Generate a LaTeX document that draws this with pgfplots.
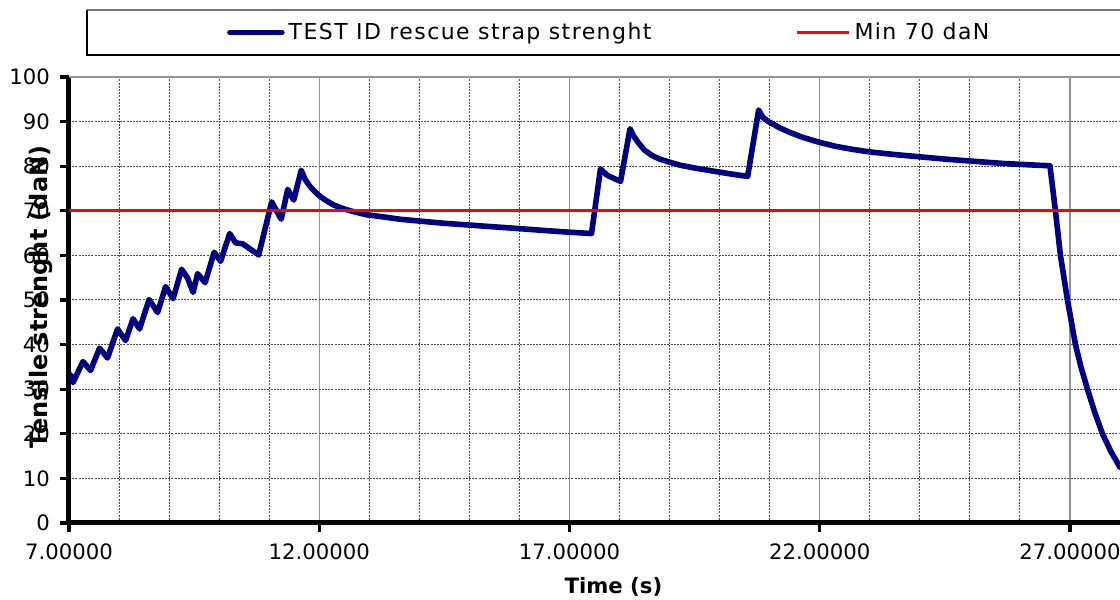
\documentclass[border=0pt]{standalone}
\usepackage{fontspec}
\setmainfont{DejaVu Sans}
\newfontfamily\legfont[LetterSpace=6.5]{DejaVu Sans}
\usepackage{pgfplots}
\pgfplotsset{compat=1.18}
\definecolor{navyline}{RGB}{0,0,128}
\definecolor{redline}{RGB}{255,0,0}
\begin{document}
\begin{tikzpicture}
\useasboundingbox (-34.5pt,-38.5pt) rectangle (525.5pt,261.5pt);
\begin{axis}[
  at={(0,0)}, anchor=south west,
  scale only axis, width=525.5pt, height=223pt,
  xmin=7, xmax=28, ymin=0, ymax=100,
  axis x line*=bottom, axis y line*=left,
  axis line style={line width=2.5pt, black},
  xtick={7,12,17,22,27},
  minor xtick={8,9,10,11,13,14,15,16,18,19,20,21,23,24,25,26,28},
  ytick={0,10,...,100},
  tick align=outside,
  major tick length=4.5pt,
  minor tick length=0pt,
  tick style={line width=1.6pt, black},
  xmajorgrids, xminorgrids, ymajorgrids,
  major x grid style={gray!85, line width=0.7pt, solid},
  minor x grid style={black!70, line width=0.5pt, dash pattern=on 1pt off 0.6pt},
  major y grid style={black!70, line width=0.5pt, dash pattern=on 1pt off 0.6pt},
  ticklabel style={font=\fontsize{10.6}{12.6}\selectfont},
  /pgf/number format/assume math mode=true,
  xticklabel style={yshift=-2.5pt, /pgf/number format/.cd, fixed, fixed zerofill, precision=5},
  yticklabel style={xshift=-1.5pt, /pgf/number format/.cd, fixed, precision=0},
  xlabel={\textbf{Time (s)}},
  ylabel={\textbf{Tensile strenght (daN)}},
  xlabel style={font=\fontsize{10.6}{12.6}\selectfont, at={(axis description cs:0.518,-0.1435)}, anchor=center},
  ylabel style={font=\fontsize{12}{14}\selectfont, at={(axis description cs:-0.0265,0.507)}, anchor=center},
  legend columns=2,
  legend style={at={(axis description cs:0.5150,1.0998)}, anchor=center,
    draw=none, fill=none, font=\legfont\fontsize{11}{13}\selectfont,
    /tikz/every even column/.append style={column sep=70pt}},
  legend image code/.code={\draw[#1] (0pt,0pt) -- (26pt,0pt);},
]
\addplot[navyline, line width=2.8pt, line join=round, line cap=round] coordinates {
(7.03,33.2) (7.08,31.5) (7.28,36.2) (7.43,34.2) (7.61,39.2) (7.77,37.0)
(7.97,43.5) (8.13,40.9) (8.28,45.8) (8.41,43.5) (8.60,50.1) (8.77,47.2)
(8.93,53.0) (9.08,50.3) (9.25,56.9) (9.37,54.9) (9.48,51.7) (9.57,55.9)
(9.72,53.9) (9.90,60.7) (10.03,58.7) (10.21,64.9) (10.33,62.8) (10.47,62.6)
(10.79,60.1) (11.05,72.0) (11.24,68.1) (11.37,74.8) (11.49,72.4) (11.64,79.1)
(11.72,77.0) (11.82,75.4) (11.92,74.2) (12.02,73.2) (12.15,72.2) (12.29,71.3)
(12.45,70.6) (12.62,70.0) (12.80,69.5) (12.95,69.1) (13.30,68.6) (13.62,68.1)
(14.0,67.7) (14.5,67.2) (15.0,66.8) (15.5,66.4) (16.0,66.0) (16.6,65.5)
(17.0,65.2) (17.44,64.9) (17.62,79.4) (17.75,78.0) (17.90,77.2) (18.02,76.6)
(18.21,88.4) (18.28,86.8) (18.38,85.2) (18.50,83.6) (18.65,82.4) (18.80,81.6)
(19.0,80.9) (19.22,80.2) (19.5,79.6) (19.87,78.9) (20.2,78.3) (20.56,77.7)
(20.78,92.6) (20.86,91.0) (20.95,90.2) (21.04,89.6) (21.2,88.6) (21.4,87.6)
(21.65,86.5) (21.98,85.4) (22.3,84.5) (22.64,83.8) (23.0,83.2) (23.51,82.6)
(24.0,82.1) (24.6,81.5) (25.2,81.0) (25.69,80.6) (26.2,80.3) (26.6,80.1)
(26.71,70) (26.76,65) (26.81,60) (26.88,55) (26.95,50) (27.03,45) (27.11,40)
(27.22,35) (27.35,30) (27.49,25) (27.65,20) (27.82,16) (28.0,12.5)
};
\addlegendentry{TEST ID rescue strap strenght}
\addplot[redline, line width=1.5pt] coordinates {(7,70) (28,70)};
\addlegendentry{Min 70 daN}
\draw[gray!85, line width=0.7pt] (axis cs:7,100) -- (axis cs:28,100);
\end{axis}
\draw[black!55, line width=0.8pt] (9pt,256.5pt) -- (540pt,256.5pt);
\draw[black, line width=0.8pt] (9pt,256.5pt) -- (9pt,234pt) -- (540pt,234pt);
\end{tikzpicture}
\end{document}
